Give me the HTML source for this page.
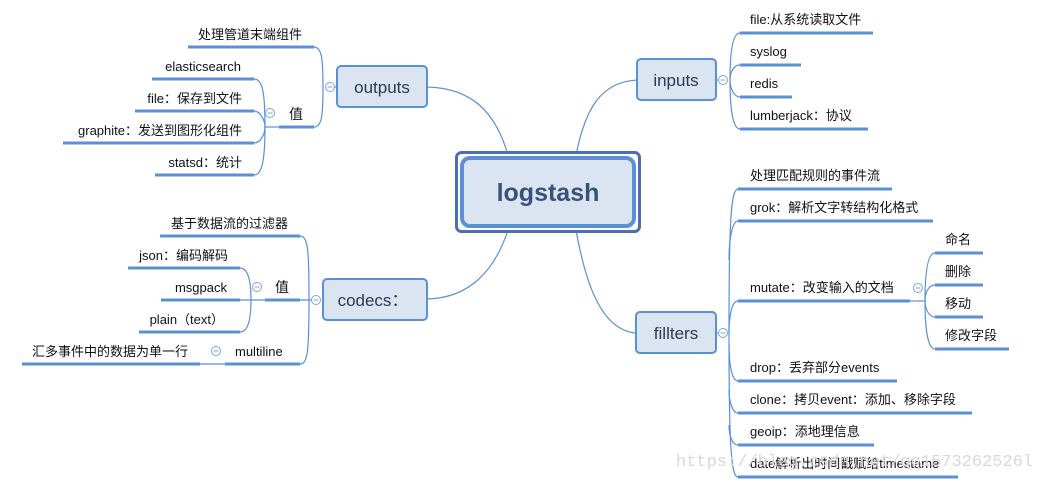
<!DOCTYPE html>
<html><head><meta charset="utf-8"><style>
html,body{margin:0;padding:0;background:#fff;}
svg text{font-family:"Liberation Sans","Noto Sans CJK SC",sans-serif;font-size:13px;fill:#111;}
</style></head><body>
<svg width="1038" height="481" viewBox="0 0 1038 481" xmlns="http://www.w3.org/2000/svg">
<g fill="none" stroke="#5b8fd6" stroke-width="1.2">
<!-- center connectors -->
<path d="M427,87 C470,88 495,110 508,155"/>
<path d="M637,80 C600,82 585,110 576,155"/>
<path d="M427,299 C470,298 495,270 508,230"/>
<path d="M636,333 C600,330 585,280 576,230"/>
<!-- outputs -->
<path d="M337,87 L334,87"/>
<path d="M314,47 C322,47 323,60 323,87 C323,115 322,127 314,127"/>
<path d="M279,127 L265,127"/>
<path d="M254,79 C262,79 265,90 265,127 C265,160 262,175 254,175"/>
<path d="M254,111 C260,111 265,120 265,127 C265,135 260,143 254,143"/>
<!-- codecs -->
<path d="M300,236 C308,236 309,250 309,299 C309,350 308,364 300,364"/>
<path d="M300,300 L320,300"/>
<path d="M240,268 C248,268 251,280 251,300 C251,320 248,332 240,332"/>
<path d="M240,300 L265,300"/>
<path d="M200,364 L225,364"/>
<!-- inputs -->
<path d="M716,80 L720,80"/>
<path d="M740,33 C733,33 730,50 730,80 C730,110 733,129 740,129"/>
<path d="M740,65 C734,65 730,72 730,80 C730,88 734,97 740,97"/>
<!-- fillters -->
<path d="M716,333 L720,333"/>
<path d="M738,189 C731,189 729,220 729,333 C729,445 731,477 738,477"/>
<path d="M738,221 C732,221 729,240 729,260"/>
<path d="M738,301 C732,301 729,315 729,333"/>
<path d="M738,381 C732,381 729,365 729,345"/>
<path d="M738,413 C732,413 729,400 729,390"/>
<path d="M738,445 C732,445 729,435 729,425"/>
<path d="M910,301 L925,301"/>
<path d="M935,253 C928,253 925,270 925,301 C925,330 928,349 935,349"/>
<path d="M935,285 C929,285 925,292 925,301 C925,309 929,317 935,317"/>
</g>
<!-- underlines -->
<g stroke="#5b8fd6" stroke-width="3" fill="none">
<line x1="188" y1="47" x2="314" y2="47"/>
<line x1="279" y1="127" x2="314" y2="127"/>
<line x1="152" y1="79" x2="254" y2="79"/>
<line x1="135" y1="111" x2="254" y2="111"/>
<line x1="63" y1="143" x2="254" y2="143"/>
<line x1="155" y1="175" x2="254" y2="175"/>
<line x1="160" y1="236" x2="300" y2="236"/>
<line x1="265" y1="300" x2="300" y2="300"/>
<line x1="128" y1="268" x2="240" y2="268"/>
<line x1="161" y1="300" x2="240" y2="300"/>
<line x1="139" y1="332" x2="240" y2="332"/>
<line x1="225" y1="364" x2="300" y2="364"/>
<line x1="22" y1="364" x2="200" y2="364"/>
<line x1="740" y1="33" x2="873" y2="33"/>
<line x1="740" y1="65" x2="801" y2="65"/>
<line x1="740" y1="97" x2="792" y2="97"/>
<line x1="740" y1="129" x2="868" y2="129"/>
<line x1="738" y1="189" x2="892" y2="189"/>
<line x1="738" y1="221" x2="933" y2="221"/>
<line x1="738" y1="301" x2="910" y2="301"/>
<line x1="738" y1="381" x2="897" y2="381"/>
<line x1="738" y1="413" x2="972" y2="413"/>
<line x1="738" y1="445" x2="874" y2="445"/>
<line x1="738" y1="477" x2="958" y2="477"/>
<line x1="935" y1="253" x2="983" y2="253"/>
<line x1="935" y1="285" x2="983" y2="285"/>
<line x1="935" y1="317" x2="983" y2="317"/>
<line x1="935" y1="349" x2="1009" y2="349"/>
</g>
<!-- collapse circles -->
<g fill="#fff" stroke="#7fa4dc" stroke-width="1">
<circle cx="330" cy="87" r="4.5"/><circle cx="270" cy="113" r="4.5"/>
<circle cx="316" cy="300" r="4.5"/><circle cx="257" cy="287" r="4.5"/><circle cx="216" cy="351" r="4.5"/>
<circle cx="723" cy="80" r="4.5"/><circle cx="723" cy="333" r="4.5"/><circle cx="918" cy="288" r="4.5"/>
</g>
<g stroke="#7fa4dc" stroke-width="1">
<line x1="327.5" y1="87" x2="332.5" y2="87"/><line x1="267.5" y1="113" x2="272.5" y2="113"/>
<line x1="313.5" y1="300" x2="318.5" y2="300"/><line x1="254.5" y1="287" x2="259.5" y2="287"/><line x1="213.5" y1="351" x2="218.5" y2="351"/>
<line x1="720.5" y1="80" x2="725.5" y2="80"/><line x1="720.5" y1="333" x2="725.5" y2="333"/><line x1="915.5" y1="288" x2="920.5" y2="288"/>
</g>
<!-- main nodes -->
<rect x="456.5" y="152.5" width="183" height="79" rx="5" fill="#fff" stroke="#4a6fb5" stroke-width="3"/>
<rect x="462" y="158" width="172" height="68" rx="8" fill="#dbe5f2" stroke="#5b8fd6" stroke-width="4"/>
<text x="548" y="201" text-anchor="middle" style="font-size:25px;font-weight:bold;fill:#3a5078">logstash</text>
<g fill="#dbe5f2" stroke="#5b8fd6" stroke-width="2">
<rect x="337" y="66" width="90" height="41" rx="4"/>
<rect x="637" y="59" width="79" height="41" rx="4"/>
<rect x="323" y="279" width="104" height="41" rx="4"/>
<rect x="636" y="312" width="80" height="41" rx="4"/>
</g>
<g style="font-size:17px">
<text x="382" y="93" text-anchor="middle" style="font-size:17px;fill:#2a3a55">outputs</text>
<text x="676" y="86" text-anchor="middle" style="font-size:17px;fill:#2a3a55">inputs</text>
<text x="373" y="306" text-anchor="middle" style="font-size:17px;fill:#2a3a55">codecs：</text>
<text x="676" y="339" text-anchor="middle" style="font-size:17px;fill:#2a3a55">fillters</text>
</g>
<!-- labels -->
<g text-anchor="end">
<text x="302" y="39">处理管道末端组件</text>
<text x="241" y="71">elasticsearch</text>
<text x="242" y="103">file：保存到文件</text>
<text x="242" y="135">graphite：发送到图形化组件</text>
<text x="242" y="167">statsd：统计</text>
<text x="288" y="228">基于数据流的过滤器</text>
<text x="228" y="260">json：编码解码</text>
<text x="227" y="292">msgpack</text>
<text x="224" y="324">plain（text）</text>
<text x="188" y="356">汇多事件中的数据为单一行</text>
</g>
<text x="289" y="119" style="font-size:14px">值</text>
<text x="275" y="292" style="font-size:14px">值</text>
<text x="235" y="356">multiline</text>
<text x="750" y="24">file:从系统读取文件</text>
<text x="750" y="56">syslog</text>
<text x="750" y="88">redis</text>
<text x="750" y="120">lumberjack：协议</text>
<text x="750" y="180">处理匹配规则的事件流</text>
<text x="750" y="212">grok：解析文字转结构化格式</text>
<text x="750" y="292">mutate：改变输入的文档</text>
<text x="750" y="372">drop：丢弃部分events</text>
<text x="750" y="404">clone：拷贝event：添加、移除字段</text>
<text x="750" y="436">geoip：添地理信息</text>
<text x="750" y="468">date解析出时间戳赋给timestame</text>
<text x="945" y="244">命名</text>
<text x="945" y="276">删除</text>
<text x="945" y="308">移动</text>
<text x="945" y="340">修改字段</text>
<text x="676" y="466" style="font-size:17px;fill:#d8d8d8;font-family:'Liberation Mono',monospace">https://blog.csdn.net/qq1573262526l</text>
</svg>
</body></html>
